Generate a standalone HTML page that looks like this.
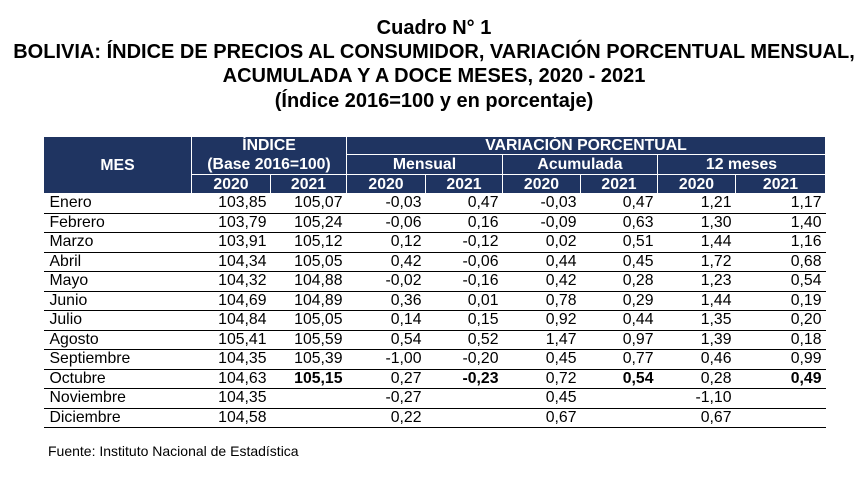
<!DOCTYPE html>
<html><head><meta charset="utf-8"><style>
body{margin:0;width:868px;height:484px;background:#fff;font-family:"Liberation Sans",Arial,sans-serif;position:relative;overflow:hidden}
.t{position:absolute;left:0;width:868px;text-align:center;font-weight:bold;font-size:20px;color:#000;line-height:24px}
table{position:absolute;left:43px;top:136px;border-collapse:collapse;table-layout:fixed;font-size:15.8px}
th{background:#1f3461;color:#fff;font-weight:bold;border:1px solid #fff;padding:0;line-height:17px;text-align:center}
td{padding:0 4px 0 0;text-align:right;height:18.5px;line-height:18px;border-bottom:1px solid #000}
td:first-child{text-align:left;padding-left:6px}
b{font-weight:bold}
.f{position:absolute;left:48px;top:443px;font-size:14px}
</style></head><body>
<div class="t" style="top:16px">Cuadro N° 1</div>
<div class="t" style="top:40px">BOLIVIA: ÍNDICE DE PRECIOS AL CONSUMIDOR, VARIACIÓN PORCENTUAL MENSUAL,</div>
<div class="t" style="top:64px">ACUMULADA Y A DOCE MESES, 2020 - 2021</div>
<div class="t" style="top:89px">(Índice 2016=100 y en porcentaje)</div>
<table>
<colgroup><col style="width:148px"><col style="width:79px"><col style="width:76px"><col style="width:79px"><col style="width:77px"><col style="width:78px"><col style="width:77px"><col style="width:78px"><col style="width:90px"></colgroup>
<tr style="height:18px"><th rowspan="3">MES</th><th colspan="2" style="border-bottom:none">ÍNDICE</th><th colspan="6">VARIACIÓN PORCENTUAL</th></tr>
<tr style="height:20px"><th colspan="2" style="border-top:none">(Base 2016=100)</th><th colspan="2">Mensual</th><th colspan="2">Acumulada</th><th colspan="2">12 meses</th></tr>
<tr style="height:19px"><th>2020</th><th>2021</th><th>2020</th><th>2021</th><th>2020</th><th>2021</th><th>2020</th><th>2021</th></tr>
<tr><td>Enero</td><td>103,85</td><td>105,07</td><td>-0,03</td><td>0,47</td><td>-0,03</td><td>0,47</td><td>1,21</td><td>1,17</td></tr>
<tr><td>Febrero</td><td>103,79</td><td>105,24</td><td>-0,06</td><td>0,16</td><td>-0,09</td><td>0,63</td><td>1,30</td><td>1,40</td></tr>
<tr><td>Marzo</td><td>103,91</td><td>105,12</td><td>0,12</td><td>-0,12</td><td>0,02</td><td>0,51</td><td>1,44</td><td>1,16</td></tr>
<tr><td>Abril</td><td>104,34</td><td>105,05</td><td>0,42</td><td>-0,06</td><td>0,44</td><td>0,45</td><td>1,72</td><td>0,68</td></tr>
<tr><td>Mayo</td><td>104,32</td><td>104,88</td><td>-0,02</td><td>-0,16</td><td>0,42</td><td>0,28</td><td>1,23</td><td>0,54</td></tr>
<tr><td>Junio</td><td>104,69</td><td>104,89</td><td>0,36</td><td>0,01</td><td>0,78</td><td>0,29</td><td>1,44</td><td>0,19</td></tr>
<tr><td>Julio</td><td>104,84</td><td>105,05</td><td>0,14</td><td>0,15</td><td>0,92</td><td>0,44</td><td>1,35</td><td>0,20</td></tr>
<tr><td>Agosto</td><td>105,41</td><td>105,59</td><td>0,54</td><td>0,52</td><td>1,47</td><td>0,97</td><td>1,39</td><td>0,18</td></tr>
<tr><td>Septiembre</td><td>104,35</td><td>105,39</td><td>-1,00</td><td>-0,20</td><td>0,45</td><td>0,77</td><td>0,46</td><td>0,99</td></tr>
<tr><td>Octubre</td><td>104,63</td><td><b>105,15</b></td><td>0,27</td><td><b>-0,23</b></td><td>0,72</td><td><b>0,54</b></td><td>0,28</td><td><b>0,49</b></td></tr>
<tr><td>Noviembre</td><td>104,35</td><td></td><td>-0,27</td><td></td><td>0,45</td><td></td><td>-1,10</td><td></td></tr>
<tr><td>Diciembre</td><td>104,58</td><td></td><td>0,22</td><td></td><td>0,67</td><td></td><td>0,67</td><td></td></tr>
</table>
<div class="f">Fuente: Instituto Nacional de Estadística</div>
</body></html>
